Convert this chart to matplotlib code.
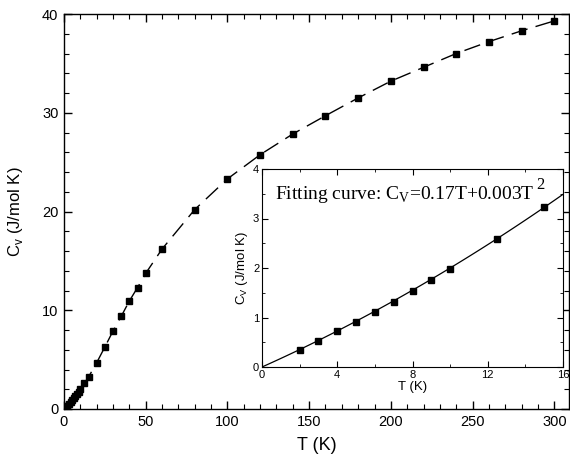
import numpy as np
import matplotlib.pyplot as plt
from matplotlib.ticker import MultipleLocator

# main panel data: C_v vs T
T_main = [2, 3, 4, 5, 6, 7, 8, 9, 10, 12.5, 15, 20, 25, 30, 35, 40, 45, 50,
          60, 80, 100, 120, 140, 160, 180, 200, 220, 240, 260, 280, 300]
Cv_main = [0.34, 0.53, 0.72, 0.91, 1.11, 1.32, 1.53, 1.75, 1.98, 2.59, 3.24,
           4.69, 6.28, 7.9, 9.38, 10.94, 12.3, 13.74,
           16.2, 20.2, 23.3, 25.75, 27.85, 29.7, 31.5, 33.2, 34.6, 36.0, 37.2, 38.3, 39.3]

# inset data (low T)
T_low = [2, 3, 4, 5, 6, 7, 8, 9, 10, 12.5, 15]
Cv_low = [0.34, 0.53, 0.72, 0.91, 1.11, 1.32, 1.53, 1.75, 1.98, 2.59, 3.24]

# fit coefficients stated on the chart
fit_a = 0.17
fit_b = 0.003

plt.rcParams['font.family'] = ['Liberation Sans', 'DejaVu Sans']

fig = plt.figure(figsize=(5.7, 4.62), dpi=100)
ax = fig.add_axes([64/570, 1 - 409/462, 505/570, 395/462])

ax.plot(T_main, Cv_main, color='black', lw=1.0, dashes=(12, 6),
        marker='s', markersize=4.5, markerfacecolor='black', markeredgecolor='black')
ax.set_xlim(0, 309)
ax.set_ylim(0, 40)
ax.xaxis.set_major_locator(MultipleLocator(50))
ax.xaxis.set_minor_locator(MultipleLocator(10))
ax.yaxis.set_major_locator(MultipleLocator(10))
ax.yaxis.set_minor_locator(MultipleLocator(2))
ax.tick_params(which='both', direction='in', top=True, right=True, labelsize=10.5, pad=4)
ax.tick_params(which='major', length=6, width=1)
ax.tick_params(which='minor', length=3.5, width=0.8)
ax.set_xlabel('T (K)', fontsize=13, labelpad=6)
ax.set_ylabel(r'C$_\mathregular{v}$ (J/mol K)', fontsize=12, labelpad=12)
for s in ax.spines.values():
    s.set_linewidth(1.0)

# inset
ins = fig.add_axes([262/570, 1 - 367/462, 301/570, 198/462])
T_fit = np.linspace(0, 16, 100)
ins.plot(T_fit, fit_a * T_fit + fit_b * T_fit**2, color='black', lw=0.9)
ins.plot(T_low, Cv_low, ls='none', marker='s', markersize=4.5, color='black')
ins.set_xlim(0, 16)
ins.set_ylim(0, 4)
ins.xaxis.set_major_locator(MultipleLocator(4))
ins.xaxis.set_minor_locator(MultipleLocator(2))
ins.yaxis.set_major_locator(MultipleLocator(1))
ins.yaxis.set_minor_locator(MultipleLocator(0.5))
ins.tick_params(which='both', direction='in', top=True, right=True, labelsize=8, pad=2)
ins.tick_params(which='major', length=4, width=0.8)
ins.tick_params(which='minor', length=2, width=0.6)
ins.set_xlabel('T (K)', fontsize=9.5, labelpad=1)
ins.set_ylabel(r'C$_\mathregular{V}$ (J/mol K)', fontsize=9.5, labelpad=2)
txt = ins.text(0.043, 0.85, r'Fitting curve: C$_\mathregular{V}$=0.17T+0.003T',
               transform=ins.transAxes, fontsize=14, family='Liberation Serif')
ins.annotate('2', xy=(1.0, 0.55), xycoords=txt, xytext=(1, 0), textcoords='offset points',
             ha='left', va='bottom', fontsize=12, family='Liberation Serif')

fig.savefig('out.png', dpi=100)
